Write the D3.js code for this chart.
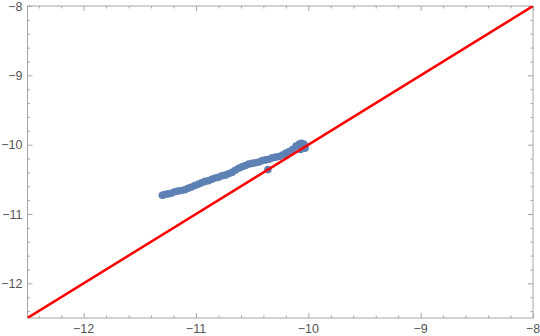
<!DOCTYPE html>
<html>
<head>
<meta charset="utf-8">
<script src="https://cdn.jsdelivr.net/npm/d3@7"></script>
<style>
  body { margin: 0; background: #fff; }
  svg text { font-family: "Liberation Sans", Arial, sans-serif; font-size: 12.5px; fill: #555; }
</style>
</head>
<body>
<div class="container"></div>
<script>
// values
var xDomain = [-12.5, -8],
    yDomain = [-12.5, -8];
var majorTicks = [-12, -11, -10, -9, -8];

var ptX = [-11.30, -11.28, -11.25, -11.22, -11.19, -11.16, -11.13, -11.10, -11.07, -11.04,
           -11.01, -10.98, -10.95, -10.92, -10.89, -10.86, -10.83, -10.80, -10.77, -10.74,
           -10.71, -10.68, -10.65, -10.62, -10.59, -10.56, -10.53, -10.50, -10.47, -10.44,
           -10.41, -10.38, -10.35, -10.32, -10.29, -10.26, -10.23, -10.20, -10.17, -10.14,
           -10.11, -10.08, -10.06, -10.04, -10.03, -10.03, -10.07, -10.36, -10.19];
var ptY = [-10.73, -10.72, -10.71, -10.70, -10.68, -10.67, -10.66, -10.65, -10.63, -10.61,
           -10.59, -10.57, -10.55, -10.53, -10.52, -10.50, -10.48, -10.47, -10.45, -10.44,
           -10.42, -10.40, -10.37, -10.34, -10.32, -10.30, -10.28, -10.27, -10.26, -10.25,
           -10.23, -10.22, -10.21, -10.19, -10.18, -10.17, -10.15, -10.12, -10.10, -10.07,
           -10.02, -9.99, -9.98, -9.99, -10.02, -10.05, -10.07, -10.36, -10.15];

var lineX = [-12.5, -8],
    lineY = [-12.5, -8];

var width = 540, height = 336;
var margin = {top: 6, right: 7, bottom: 18, left: 27.5};

var svg = d3.select("div.container").append("svg")
    .attr("width", width)
    .attr("height", height);

var x = d3.scaleLinear().domain(xDomain).range([margin.left, width - margin.right]);
var y = d3.scaleLinear().domain(yDomain).range([height - margin.bottom, margin.top]);

var minorTicks = d3.range(-12.4, -8.05, 0.2).map(function(v) { return +v.toFixed(1); })
    .filter(function(v) { return majorTicks.indexOf(v) < 0; });

svg.append("clipPath").attr("id", "plotclip")
  .append("rect")
    .attr("x", x(xDomain[0])).attr("y", y(yDomain[1]))
    .attr("width", x(xDomain[1]) - x(xDomain[0]))
    .attr("height", y(yDomain[0]) - y(yDomain[1]));

// frame
var frameColor = "#a6a6a6";
svg.append("rect")
    .attr("x", x(xDomain[0])).attr("y", y(yDomain[1]))
    .attr("width", x(xDomain[1]) - x(xDomain[0]))
    .attr("height", y(yDomain[0]) - y(yDomain[1]))
    .attr("fill", "none")
    .attr("stroke", frameColor)
    .attr("stroke-width", 1);

// axes, ticks pointing inward
function tickGroup(axisFn, scale, ticks, len, transform, labels) {
  var g = svg.append("g").attr("transform", transform)
    .call(axisFn(scale).tickValues(ticks).tickSizeInner(len).tickSizeOuter(0)
      .tickPadding(labels ? 4 : 0)
      .tickFormat(labels ? function(d) { return d3.format("d")(d).replace("-", "\u2212"); } : ""));
  g.select(".domain").remove();
  g.selectAll(".tick line").attr("stroke", frameColor);
  return g;
}

var bottomY = y(yDomain[0]), topY = y(yDomain[1]);
var leftX = x(xDomain[0]), rightX = x(xDomain[1]);

// bottom
tickGroup(d3.axisTop, x, majorTicks, 5, "translate(0," + bottomY + ")", false);
tickGroup(d3.axisTop, x, minorTicks, 2.5, "translate(0," + bottomY + ")", false);
// top
tickGroup(d3.axisBottom, x, majorTicks, 5, "translate(0," + topY + ")", false);
tickGroup(d3.axisBottom, x, minorTicks, 2.5, "translate(0," + topY + ")", false);
// left
tickGroup(d3.axisRight, y, majorTicks, 5, "translate(" + leftX + ",0)", false);
tickGroup(d3.axisRight, y, minorTicks, 2.5, "translate(" + leftX + ",0)", false);
// right
tickGroup(d3.axisLeft, y, majorTicks, 5, "translate(" + rightX + ",0)", false);
tickGroup(d3.axisLeft, y, minorTicks, 2.5, "translate(" + rightX + ",0)", false);

var fmt = function(d) { return d3.format("d")(d).replace("-", "\u2212"); };

// tick labels
svg.append("g").selectAll("text")
    .data(majorTicks)
    .enter().append("text")
    .attr("x", function(d) { return x(d); })
    .attr("y", bottomY + 15)
    .attr("text-anchor", "middle")
    .text(fmt);

svg.append("g").selectAll("text")
    .data(majorTicks)
    .enter().append("text")
    .attr("x", leftX - 5)
    .attr("y", function(d) { return y(d) + 4.5; })
    .attr("text-anchor", "end")
    .text(fmt);

var plot = svg.append("g").attr("clip-path", "url(#plotclip)");

// points
var pts = ptX.map(function(v, i) { return {x: v, y: ptY[i]}; });
plot.selectAll(".pt")
    .data(pts)
    .enter().append("circle")
    .attr("class", "pt")
    .attr("cx", function(d) { return x(d.x); })
    .attr("cy", function(d) { return y(d.y); })
    .attr("r", 3.8)
    .attr("fill", "#5e81b5");

// red diagonal
plot.append("path")
    .datum(lineX.map(function(v, i) { return [v, lineY[i]]; }))
    .attr("d", d3.line().x(function(d) { return x(d[0]); }).y(function(d) { return y(d[1]); }))
    .attr("fill", "none")
    .attr("stroke", "#ff0000")
    .attr("stroke-width", 2.5);
</script>
</body>
</html>
